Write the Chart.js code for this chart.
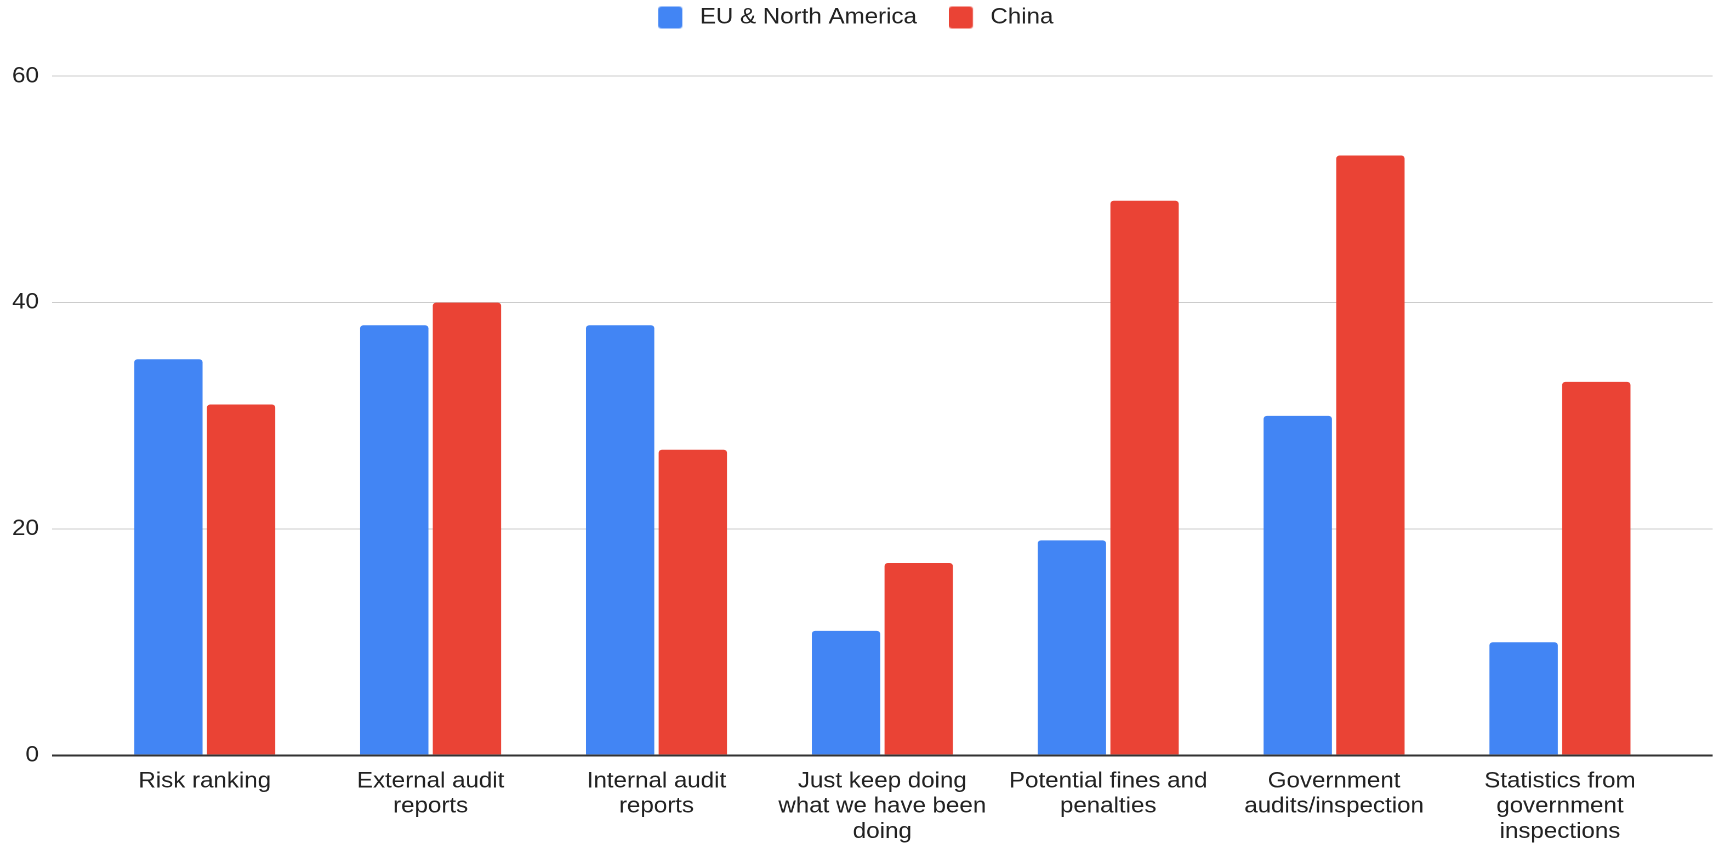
<!DOCTYPE html>
<html>
<head>
<meta charset="utf-8">
<script src="https://cdn.jsdelivr.net/npm/chart.js@4/dist/chart.umd.min.js"></script>
<style>
  html, body { margin: 0; padding: 0; background: #ffffff; overflow: hidden; }
  #wrap { position: absolute; left: 0; top: 0; width: 1568px; height: 844px; transform-origin: 0 0; transform: scaleX(1.096301); }
  canvas { display: block; }
</style>
</head>
<body>
<div id="wrap"><canvas id="c"></canvas></div>
<script>
// ---- data ----
const categories = [
  'Risk ranking',
  'External audit reports',
  'Internal audit reports',
  'Just keep doing what we have been doing',
  'Potential fines and penalties',
  'Government audits/inspection',
  'Statistics from government inspections'
];
const categoryLines = [
  ['Risk ranking'],
  ['External audit', 'reports'],
  ['Internal audit', 'reports'],
  ['Just keep doing', 'what we have been', 'doing'],
  ['Potential fines and', 'penalties'],
  ['Government', 'audits/inspection'],
  ['Statistics from', 'government', 'inspections']
];
const seriesNames = ['EU & North America', 'China'];
const euNorthAmerica = [35, 38, 38, 11, 19, 30, 10];
const china = [31, 40, 27, 17, 49, 53, 33];
const yTickValues = [0, 20, 40, 60];

// ---- styles ----
const BLUE = '#4285F4';
const RED = '#EA4335';
const FONT = "'Liberation Sans', Arial, Helvetica, sans-serif";
const TEXT = '#222222';

function legendBox(color) {
  const c = document.createElement('canvas');
  c.width = 27; c.height = 22;
  const g = c.getContext('2d');
  g.fillStyle = color;
  g.beginPath();
  if (g.roundRect) g.roundRect(0, 0, 22, 22, 3); else g.rect(0, 0, 22, 22);
  g.fill();
  return c;
}
const legendImgs = [legendBox(BLUE), legendBox(RED)];

const legendSpacing = {
  id: 'legendSpacing',
  beforeLayout(chart) {
    const lg = chart.legend;
    if (lg && !lg._spacingPatched) {
      const origFit = lg.fit;
      lg.fit = function () {
        origFit.call(this);
        this.height += 37.7;
      };
      lg._spacingPatched = true;
    }
  }
};

new Chart(document.getElementById('c'), {
  type: 'bar',
  data: {
    datasets: [
      {
        label: seriesNames[0],
        data: euNorthAmerica.map((v, i) => ({ x: i, y: v })),
        backgroundColor: BLUE,
        borderRadius: 3,
        borderSkipped: 'bottom'
      },
      {
        label: seriesNames[1],
        data: china.map((v, i) => ({ x: i, y: v })),
        backgroundColor: RED,
        borderRadius: 3,
        borderSkipped: 'bottom'
      }
    ]
  },
  options: {
    responsive: true,
    maintainAspectRatio: false,
    animation: false,
    devicePixelRatio: 2,
    categoryPercentage: 0.6436,
    barPercentage: 0.94,
    layout: { padding: { top: -22.5, left: -1, right: 5.8, bottom: -13.6 } },
    plugins: {
      tooltip: { enabled: false },
      legend: {
        position: 'top',
        align: 'center',
        labels: {
          usePointStyle: true,
          pointStyleWidth: 27,
          boxHeight: 22,
          padding: 29,
          color: TEXT,
          font: { family: FONT, size: 22 },
          generateLabels(chart) {
            const items = Chart.defaults.plugins.legend.labels.generateLabels(chart);
            items.forEach((it, i) => { it.pointStyle = legendImgs[i]; });
            return items;
          }
        }
      }
    },
    scales: {
      x: {
        type: 'linear',
        offset: false,
        min: -0.676,
        max: categories.length - 1 + 0.676,
        grid: { display: false, drawTicks: false, offset: false },
        border: { display: false },
        afterBuildTicks(scale) {
          scale.ticks = categories.map((_, i) => ({ value: i }));
        },
        afterFit(scale) {
          scale.paddingLeft = 0;
          scale.paddingRight = 0;
        },
        ticks: {
          autoSkip: false,
          maxRotation: 0,
          minRotation: 0,
          padding: 13.3,
          color: TEXT,
          font: { family: FONT, size: 22, lineHeight: 1.145 },
          callback(value) { return categoryLines[value]; }
        }
      },
      y: {
        min: yTickValues[0],
        max: yTickValues[yTickValues.length - 1],
        border: { display: false },
        grid: {
          drawTicks: false,
          color: (ctx) => (ctx.tick && ctx.tick.value === 0 ? '#333333' : '#cccccc'),
          lineWidth: (ctx) => (ctx.tick && ctx.tick.value === 0 ? 2 : 1)
        },
        afterBuildTicks(scale) {
          scale.ticks = yTickValues.map(v => ({ value: v }));
        },
        ticks: {
          padding: 12,
          color: TEXT,
          font: { family: FONT, size: 22 }
        }
      }
    }
  },
  plugins: [legendSpacing]
});
</script>
</body>
</html>
